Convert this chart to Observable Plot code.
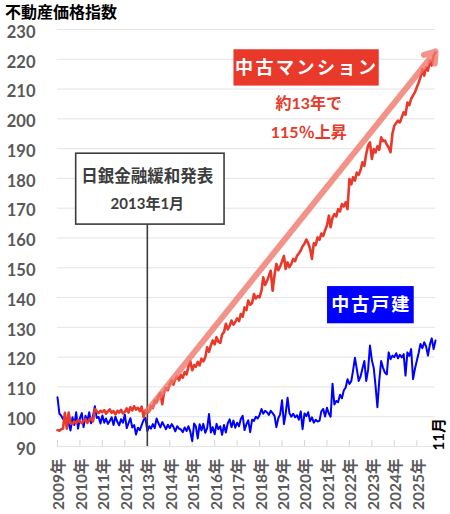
<!DOCTYPE html>
<html><head><meta charset="utf-8">
<script src="https://cdn.jsdelivr.net/npm/d3@7"></script>
<script src="https://cdn.jsdelivr.net/npm/@observablehq/plot@0.6"></script>
<style>
body{margin:0;background:#fff;}
#wrap{position:relative;width:450px;height:514px;}
#title{position:absolute;left:5px;top:3px;font:bold 16px/16px "Noto Sans CJK JP",sans-serif;color:#000;z-index:2;}
#wrap svg{position:absolute;left:0;top:0;}
</style></head><body>
<div id="wrap"><div id="title">不動産価格指数</div></div>
<script>
// ---- data (monthly, starting 2009-01, ending 2025-11) ----
const startMonth = "2009-01-01";
const mansionIndex = [
  95.5, 95.3, 95.8, 96.0, 101.3, 96.0, 101.4, 98.0, 97.6, 98.4, 97.8, 98.9,      // 2009
  98.3, 97.8, 98.6, 99.2, 97.9, 98.8, 99.5, 98.4, 102.6, 101.8, 101.2, 102.0,    // 2010
  101.5, 102.2, 101.0, 101.8, 102.5, 101.3, 101.9, 100.8, 102.0, 101.4, 102.3, 101.1, // 2011
  101.6, 102.8, 101.4, 103.2, 102.1, 103.5, 102.4, 103.0, 101.9, 103.4, 99.8, 102.2,  // 2012
  101.3, 101.8, 103.6, 102.9, 105.5, 104.8, 107.0, 107.9, 104.2, 108.4, 109.6, 108.9, // 2013
  111.0, 112.3, 110.8, 112.6, 113.5, 112.2, 114.0, 113.1, 115.0, 114.2, 116.9, 118.6, // 2014
  115.6, 117.3, 116.8, 118.4, 117.2, 119.5, 118.6, 119.9, 123.3, 121.8, 124.0, 125.6, // 2015
  124.3, 126.7, 125.2, 124.8, 127.6, 128.4, 131.2, 129.3, 130.5, 132.3, 130.9, 131.8, // 2016
  133.0, 132.1, 134.5, 133.6, 136.7, 135.8, 139.0, 137.6, 138.2, 141.2, 139.7, 140.5, // 2017
  140.1, 142.3, 146.8, 144.2, 145.5, 147.3, 149.0, 142.3, 147.6, 151.3, 149.2, 150.4, // 2018
  152.1, 154.0, 149.6, 151.8, 150.2, 151.3, 153.0, 152.2, 154.0, 154.8, 155.8, 157.2, // 2019
  158.1, 159.5, 158.3, 156.4, 153.0, 158.3, 157.6, 160.2, 159.4, 161.5, 160.7, 162.6, // 2020
  164.2, 167.5, 163.6, 166.8, 168.0, 167.2, 169.7, 168.9, 171.4, 170.6, 172.0, 169.7, // 2021
  179.8, 178.0, 180.4, 179.3, 182.0, 181.2, 182.8, 185.4, 184.2, 188.2, 191.0, 192.1, // 2022
  186.5, 189.9, 188.7, 190.8, 189.6, 193.8, 192.5, 192.7, 191.4, 190.4, 188.8, 195.0, // 2023
  197.7, 198.6, 199.4, 198.8, 200.5, 202.2, 201.4, 205.5, 204.6, 206.7, 207.9, 208.9, // 2024
  210.6, 212.2, 213.9, 216.7, 214.5, 217.3, 216.2, 219.5, 217.9, 221.2, 222.3         // 2025
];
const houseIndex = [
  106.5, 101.0, 100.4, 99.2, 100.1, 98.8, 97.7, 95.4, 99.8, 97.2, 101.5, 96.0,   // 2009
  99.5, 101.2, 96.5, 100.3, 98.6, 101.5, 97.8, 100.2, 103.5, 99.6, 99.9, 97.7,   // 2010
  100.4, 98.0, 99.4, 97.6, 98.5, 99.8, 97.2, 100.0, 98.3, 97.1, 99.2, 98.0,      // 2011
  100.7, 96.2, 97.8, 99.5, 96.4, 97.2, 94.0, 96.3, 95.5, 97.2, 98.9, 99.6,       // 2012
  95.2, 96.8, 96.0, 97.5, 96.2, 99.4, 97.8, 96.4, 98.2, 97.0, 95.8, 97.3,        // 2013
  96.2, 97.5, 96.6, 95.1, 96.8, 96.0, 95.7, 94.8, 96.4, 95.2, 96.8, 95.0,        // 2014
  91.8, 97.7, 96.8, 92.7, 97.5, 95.4, 97.6, 94.6, 96.2, 100.9, 94.7, 96.5,       // 2015
  94.1, 97.6, 95.8, 96.8, 93.9, 97.2, 94.7, 97.8, 99.1, 96.5, 98.7, 96.3,        // 2016
  98.0, 96.8, 99.2, 100.3, 95.5, 97.5, 98.8, 94.8, 99.0, 98.6, 100.0, 99.4,      // 2017
  100.6, 102.6, 101.0, 102.0, 101.5, 100.6, 102.0, 101.2, 100.3, 96.5, 99.5, 100.8, // 2018
  105.5, 97.5, 101.0, 106.4, 101.2, 100.0, 101.0, 99.8, 100.5, 99.0, 101.8, 95.8,   // 2019
  101.1, 100.2, 101.5, 98.5, 99.8, 98.0, 99.0, 98.4, 98.6, 101.8, 102.6, 100.1,     // 2020
  103.0, 101.0, 100.0, 111.1, 104.1, 105.3, 104.9, 107.4, 106.2, 108.8, 109.8, 112.6, // 2021
  111.0, 112.0, 115.5, 119.8, 116.0, 112.0, 113.5, 116.2, 118.7, 112.0, 115.8, 123.9, // 2022
  119.0, 116.3, 110.5, 103.2, 112.0, 118.7, 116.5, 114.8, 114.2, 121.6, 119.3, 120.5, // 2023
  120.0, 121.3, 119.6, 120.8, 119.9, 121.0, 113.8, 121.6, 120.4, 122.7, 112.6, 116.0, // 2024
  118.8, 121.5, 124.4, 123.0, 125.0, 123.6, 120.5, 124.2, 126.3, 122.7, 125.6         // 2025
];
const yTicks = [90, 100, 110, 120, 130, 140, 150, 160, 170, 180, 190, 200, 210, 220, 230];
const yearTicks = ["2009","2010","2011","2012","2013","2014","2015","2016","2017","2018","2019","2020","2021","2022","2023","2024","2025"];
const seriesNames = ["中古マンション", "中古戸建"];
const bojLines = ["日銀金融緩和発表", "2013年1月"];
const riseLines = ["約13年で", "115％上昇"];
const lastMonthLabel = "11月";

// ---- build tables ----
const start = new Date(startMonth);
const mansion = mansionIndex.map((v, i) => ({date: d3.utcMonth.offset(start, i), v}));
const house = houseIndex.map((v, i) => ({date: d3.utcMonth.offset(start, i), v}));
const years = yearTicks.map(y => new Date(y + "-01-01"));
const endDate = mansion[mansion.length - 1].date;
const D = s => new Date(s);

const FONT = "Lato, 'Noto Sans CJK JP', sans-serif";
const RED = "#e8392b", BLUE = "#0000ff", DARK = "#3c3c3c";

const chart = Plot.plot({
  width: 450, height: 514,
  marginTop: 29, marginBottom: 68, marginLeft: 57, marginRight: 15,
  style: {fontFamily: FONT, background: "white", overflow: "visible"},
  x: {type: "utc", domain: [start, endDate]},
  y: {domain: [90, 230]},
  marks: [
    Plot.ruleY(yTicks, {stroke: "#e4e4e4", strokeWidth: 1}),
    Plot.ruleX(years, {y1: 90, y2: 92, stroke: "#d6d6d6"}),
    Plot.axisY(yTicks, {tickSize: 0, tickPadding: 22, dy: 3, fontSize: 16.5, fontWeight: "bold", fill: "#595959", label: null}),
    Plot.axisX(years, {tickSize: 0, tickRotate: -90, tickPadding: 12, dx: 2, fontSize: 15.5, fontWeight: "bold", fill: "#595959", label: null,
      tickFormat: d => d.getUTCFullYear() + "年"}),
    // BOJ annotation box
    Plot.rect([0], {x1: D("2009-11-01"), x2: D("2016-06-10"), y1: 164.5, y2: 188.3, fill: "white", stroke: DARK, strokeWidth: 1.6}),
    Plot.text([bojLines[0]], {x: D("2013-01-01"), y: 180.6, text: d => d, fontSize: 16.5, fontWeight: "bold", fill: DARK}),
    Plot.text([bojLines[1]], {x: D("2013-01-01"), y: 171.4, text: d => d, fontSize: 15, fontWeight: "bold", fill: DARK}),
    // series
    Plot.line(house, {x: "date", y: "v", stroke: BLUE, strokeWidth: 2}),
    Plot.line(mansion, {x: "date", y: "v", stroke: RED, strokeWidth: 2.6}),
    Plot.ruleX([D("2013-01-01")], {y1: 90, y2: 164.5, stroke: DARK, strokeWidth: 1.6}),
    // trend arrow
    Plot.arrow([0], {x1: D("2013-01-01"), y1: 102, x2: endDate, y2: 222.6, stroke: "#f0776b", strokeOpacity: 0.8,
      strokeWidth: 6, headLength: 3, headAngle: 70}),
    // series labels
    Plot.rect([0], {x1: D("2016-11-10"), x2: D("2023-05-01"), y1: 211, y2: 223.2, fill: RED}),
    Plot.text([seriesNames[0]], {x: D("2020-02-05"), y: 217.1, text: d => d, fill: "white", fontSize: 18, fontWeight: "bold"}),
    Plot.text([riseLines[0]], {x: D("2020-03-10"), y: 205.1, text: d => d, fill: RED, fontSize: 16, fontWeight: "bold"}),
    Plot.text([riseLines[1]], {x: D("2020-03-10"), y: 195.4, text: d => d, fill: RED, fontSize: 16, fontWeight: "bold"}),
    Plot.rect([0], {x1: D("2021-01-10"), x2: D("2024-11-20"), y1: 131.2, y2: 143.7, fill: BLUE}),
    Plot.text([seriesNames[1]], {x: D("2022-12-20"), y: 137.4, text: d => d, fill: "white", fontSize: 18, fontWeight: "bold"}),
    // last month label
    Plot.text([lastMonthLabel], {x: endDate, y: 90, text: d => d, rotate: -90, textAnchor: "start", dy: 4, dx: 4,
      fill: "#000", fontSize: 15, fontWeight: "bold"})
  ]
});
d3.select(chart).selectAll("text").filter(function(){ return this.textContent === seriesNames[0]; }).attr("letter-spacing", 2.5);
d3.select(chart).selectAll("text").filter(function(){ return this.textContent === seriesNames[1]; }).attr("letter-spacing", 2);
document.getElementById("wrap").appendChild(chart);
</script>
</body></html>
